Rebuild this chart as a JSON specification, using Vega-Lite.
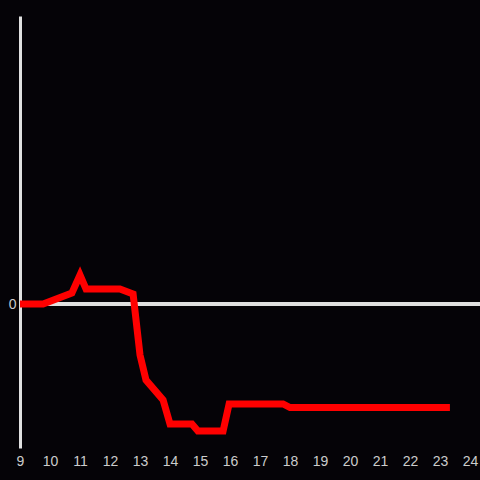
{
  "$schema": "https://vega.github.io/schema/vega-lite/v6.json",
  "width": 460,
  "height": 432,
  "autosize": {"type": "none"},
  "padding": {"left": 20, "top": 16, "right": 0, "bottom": 32},
  "background": "#050307",
  "config": {
    "view": {"stroke": null},
    "axis": {"grid": false, "labelFont": "Liberation Sans", "labelFontSize": 14, "labelColor": "#cccccc"}
  },
  "data": {
    "values": [
      {"x": 9.0, "y": 0},
      {"x": 9.77, "y": 0},
      {"x": 10.73, "y": 11},
      {"x": 11.0, "y": 29},
      {"x": 11.2, "y": 15},
      {"x": 12.33, "y": 15},
      {"x": 12.77, "y": 10},
      {"x": 13.0, "y": -51},
      {"x": 13.2, "y": -76},
      {"x": 13.77, "y": -96},
      {"x": 14.0, "y": -120},
      {"x": 14.73, "y": -120},
      {"x": 14.93, "y": -127},
      {"x": 15.77, "y": -127},
      {"x": 15.97, "y": -100},
      {"x": 17.77, "y": -100},
      {"x": 18.0, "y": -103.5},
      {"x": 23.33, "y": -103.5}
    ]
  },
  "layer": [
    {
      "mark": {"type": "rule", "color": "#e0e0e0", "strokeWidth": 3},
      "encoding": {"y": {"datum": 0, "type": "quantitative"}}
    },
    {
      "mark": {"type": "line", "color": "#ff0000", "strokeWidth": 7, "strokeJoin": "miter"},
      "encoding": {
        "x": {
          "field": "x",
          "type": "quantitative",
          "scale": {"domain": [9, 24.333], "nice": false, "zero": false},
          "axis": {"title": null, "values": [9,10,11,12,13,14,15,16,17,18,19,20,21,22,23,24], "domain": false, "ticks": false, "labelPadding": 6, "labelFlush": false, "labelOverlap": false}
        },
        "y": {
          "field": "y",
          "type": "quantitative",
          "scale": {"domain": [-144, 288], "nice": false, "zero": false},
          "axis": {"title": null, "values": [0], "domain": true, "domainColor": "#e0e0e0", "domainWidth": 3, "ticks": false, "labelPadding": 4, "labelBaseline": "middle"}
        }
      }
    }
  ]
}
